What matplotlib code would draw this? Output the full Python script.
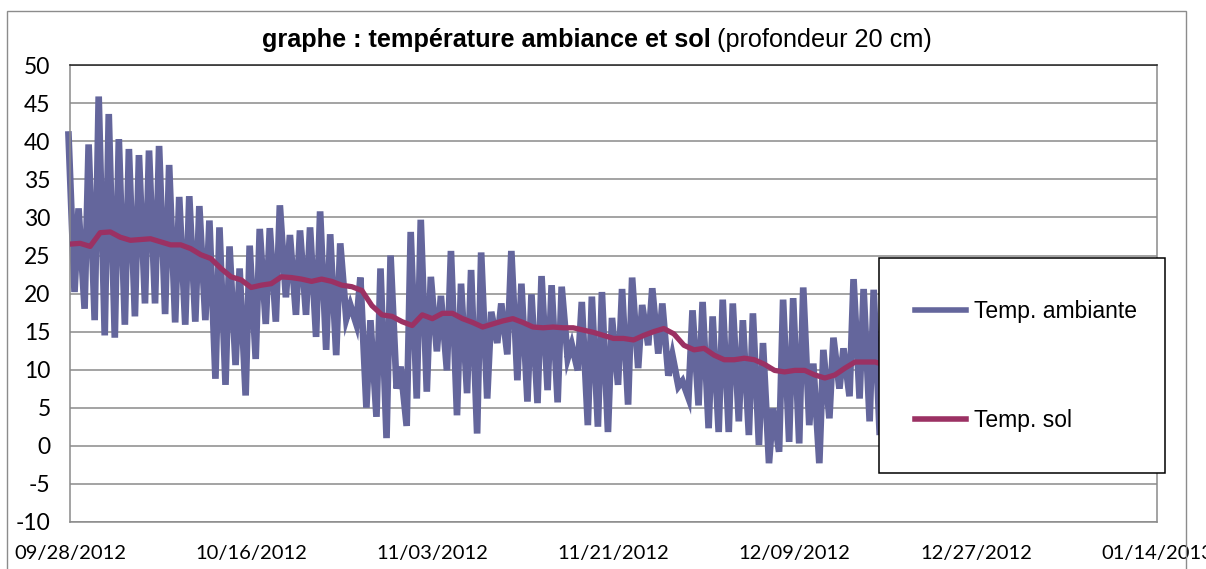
"""Température ambiante et température du sol (profondeur 20 cm), sept. 2012 - janv. 2013."""

import matplotlib
matplotlib.use("Agg")
import matplotlib.pyplot as plt
from matplotlib.patches import Rectangle

plt.rcParams["font.family"] = ["Lato", "DejaVu Sans"]
plt.rcParams["axes.unicode_minus"] = False

# daily highs / lows of the ambient temperature (°C)
ambient_high = [40.9, 31.2, 39.6, 45.9, 43.6, 40.3, 39.0, 38.2, 38.8, 39.4,
                36.9, 32.7, 32.8, 31.5, 29.6, 28.7, 26.2, 23.3, 26.3, 28.5,
                28.6, 31.6, 27.7, 28.3, 28.7, 30.8, 27.8, 26.6, 18.5, 22.1,
                16.5, 23.3, 25.0, 10.4, 28.1, 29.7, 22.2, 19.7, 25.6, 21.3,
                23.1, 25.4, 17.6, 18.7, 25.6, 21.3, 19.9, 22.3, 21.1, 20.9,
                13.3, 18.9, 19.6, 20.2, 16.8, 20.6, 22.1, 18.5, 20.7, 18.7,
                11.9, 8.5, 17.8, 18.9, 17.0, 19.2, 18.7, 16.5, 17.4, 13.5,
                4.9, 19.2, 19.4, 20.8, 10.8, 12.6, 14.2, 12.8, 21.9, 20.6,
                20.5, 18.1]
ambient_low = [20.2, 18.0, 16.5, 14.5, 14.2, 15.9, 17.0, 18.7, 18.7, 17.3,
               16.2, 15.9, 16.3, 16.5, 8.8, 8.0, 10.6, 6.6, 11.4, 16.0,
               16.3, 19.5, 17.2, 17.2, 14.3, 12.6, 11.9, 16.7, 16.0, 5.0,
               3.8, 1.0, 7.5, 2.6, 6.2, 7.1, 12.4, 9.9, 4.0, 6.9,
               1.6, 6.2, 13.5, 12.0, 8.6, 5.8, 5.6, 7.3, 5.7, 11.5,
               9.9, 2.7, 2.5, 1.8, 8.0, 5.4, 10.2, 13.2, 12.1, 9.2,
               7.8, 6.3, 5.3, 2.3, 1.8, 1.8, 3.2, 1.4, 0.1, -2.3,
               -0.8, 0.5, 0.3, 2.7, -2.3, 3.6, 7.5, 6.5, 6.2, 3.2,
               1.4, 1.5]

# soil temperature at 20 cm, one reading per day (°C)
soil = [26.5, 26.6, 26.2, 28.0, 28.1, 27.4, 27.0, 27.1, 27.2, 26.8,
        26.4, 26.4, 25.9, 25.1, 24.6, 23.3, 22.2, 21.8, 20.8, 21.1,
        21.3, 22.2, 22.1, 21.9, 21.6, 21.9, 21.6, 21.1, 20.9, 20.4,
        18.4, 17.2, 17.0, 16.3, 15.8, 17.2, 16.7, 17.4, 17.4, 16.7,
        16.2, 15.6, 16.0, 16.4, 16.7, 16.2, 15.6, 15.5, 15.6, 15.5,
        15.5, 15.2, 14.9, 14.5, 14.1, 14.1, 13.9, 14.5, 15.0, 15.4,
        14.7, 13.2, 12.6, 12.8, 11.9, 11.3, 11.3, 11.5, 11.3, 10.7,
        9.9, 9.7, 9.9, 9.9, 9.3, 8.9, 9.3, 10.2, 11.0, 11.0,
        11.0, 10.6]

tick_labels = ["09/28/2012", "10/16/2012", "11/03/2012", "11/21/2012",
               "12/09/2012", "12/27/2012", "01/14/2013"]
tick_step_days = 18

AMB_COLOR = "#64669c"
SOL_COLOR = "#9b3163"
GRID = "#8a8a8a"
ARIAL = ["Liberation Sans", "DejaVu Sans"]

# afternoon peak then early-morning low for each day
amb_x, amb_y = [], []
for k, (hi, lo) in enumerate(zip(ambient_high, ambient_low)):
    amb_x += [k - 0.15, k + 0.45]
    amb_y += [hi, lo]
soil_x = list(range(len(soil)))

fig = plt.figure(figsize=(12.06, 5.69), dpi=100)
ax = fig.add_axes([70 / 1206, 1 - 521.8 / 569, 1087 / 1206, (521.8 - 65.3) / 569])

ax.plot(amb_x, amb_y, color=AMB_COLOR, lw=4.8, solid_joinstyle="miter",
        label="Temp. ambiante", clip_on=False, zorder=2)
ax.plot(soil_x, soil, color=SOL_COLOR, lw=3.8, label="Temp. sol", zorder=3)

ax.set_xlim(0, tick_step_days * (len(tick_labels) - 1))
ax.set_ylim(-10, 50)
ax.set_yticks(range(-10, 51, 5))
ax.set_xticks([i * tick_step_days for i in range(len(tick_labels))])
ax.set_xticklabels(tick_labels)
ax.tick_params(axis="both", length=0)
ax.tick_params(axis="y", pad=14, labelsize=16.5)
ax.tick_params(axis="x", pad=17, labelsize=14.5)
ax.grid(axis="y", color=GRID, lw=1.1)
ax.set_axisbelow(True)
for side in ("left", "right", "bottom"):
    ax.spines[side].set_color(GRID)
    ax.spines[side].set_linewidth(1.1)
ax.spines["top"].set_color("#222222")
ax.spines["top"].set_linewidth(1.1)

# title: bold part + regular part, centred together over the chart
ty = 1 - 40 / 569
t1 = fig.text(0, ty, "graphe : température ambiance et sol ", va="center",
              fontsize=18.2, fontweight="bold", family=ARIAL)
t2 = fig.text(0, ty, "(profondeur 20 cm)", va="center", fontsize=18.2, family=ARIAL)
r = fig.canvas.get_renderer()
w1 = t1.get_window_extent(r).width / 1206
w2 = t2.get_window_extent(r).width / 1206
x0 = 597 / 1206 - (w1 + w2) / 2
t1.set_x(x0)
t2.set_x(x0 + w1)

# outer chart frame
fig.add_artist(Rectangle((7 / 1206, -0.02), 1179 / 1206, 1.02 - 11 / 569,
                         transform=fig.transFigure, fill=False, ec="#8c8c8c", lw=1.0))

# legend box (Excel style, overlapping the plot area)
box = Rectangle((879 / 1206, 1 - 473 / 569), 286 / 1206, 215 / 569,
                transform=fig.transFigure, fc="white", ec="black", lw=1.1, zorder=5)
fig.add_artist(box)
leg = fig.legend(loc="center left", bbox_to_anchor=(904 / 1206, 1 - 366 / 569),
                 frameon=False, prop={"family": ARIAL, "size": 16.5}, borderpad=0,
                 labelspacing=3.75, handlelength=2.2, handletextpad=0.35)
leg.set_zorder(6)
for line in leg.get_lines():
    line.set_linewidth(4)

fig.savefig("out.png", dpi=100)
